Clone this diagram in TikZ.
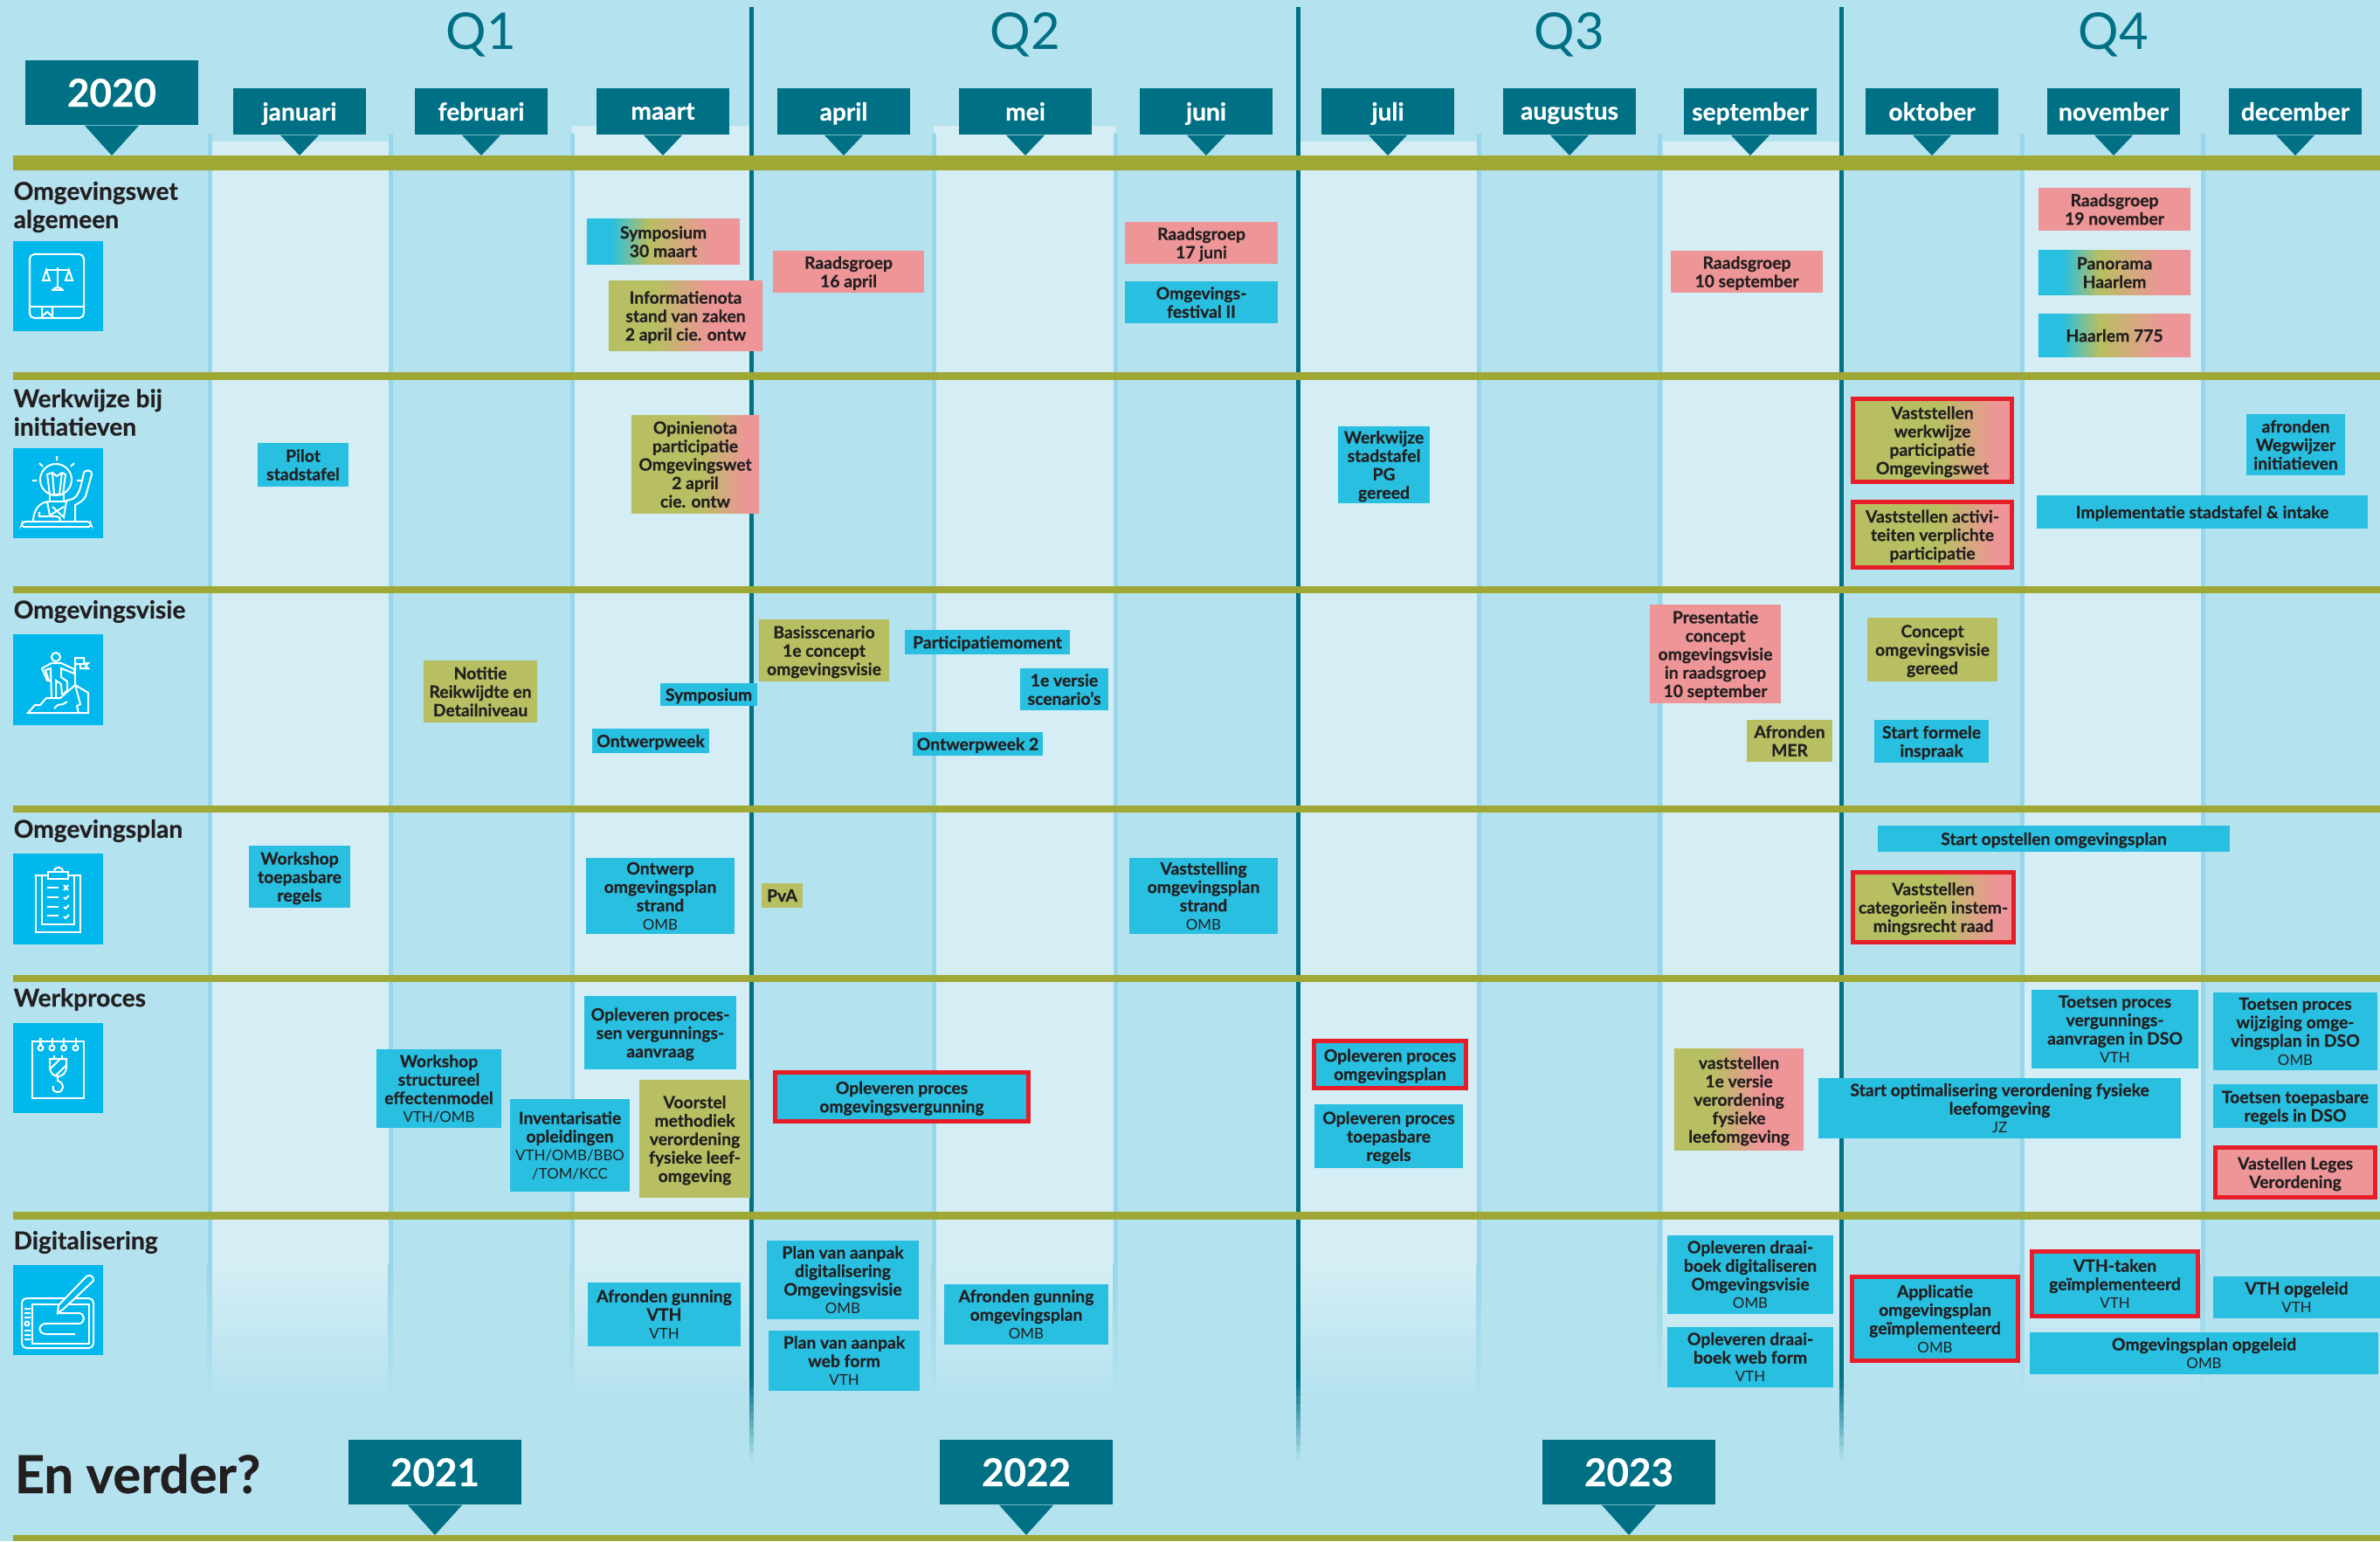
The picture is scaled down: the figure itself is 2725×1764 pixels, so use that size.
\documentclass[tikz,border=0pt]{standalone}
\usepackage{fontspec}
\setmainfont{Lato}[BoldFeatures={FakeBold=0.5}]
\usetikzlibrary{positioning}

\definecolor{bgblue}{HTML}{B4E2EF}
\definecolor{lightblue}{HTML}{D5EEF5}
\definecolor{colline}{HTML}{98D7E9}
\definecolor{tagteal}{HTML}{007085}
\definecolor{barolive}{HTML}{9FA735}
\definecolor{iconblue}{HTML}{00B8EC}
\definecolor{boxcyan}{HTML}{29BFE0}
\definecolor{boxolive}{HTML}{B7BF62}
\definecolor{boxpink}{HTML}{EE9598}
\definecolor{markred}{HTML}{E71D2A}
\definecolor{inktext}{HTML}{231F20}

\pgfdeclarehorizontalshading{olivepink}{100bp}{color(0bp)=(boxolive); color(40bp)=(boxolive); color(58bp)=(boxpink); color(100bp)=(boxpink)}
\pgfdeclarehorizontalshading{olivepinklate}{100bp}{color(0bp)=(boxolive); color(52bp)=(boxolive); color(70bp)=(boxpink); color(100bp)=(boxpink)}
\pgfdeclarehorizontalshading{cyanpink}{100bp}{color(0bp)=(boxcyan); color(33bp)=(boxcyan); color(45bp)=(boxolive); color(66bp)=(boxpink); color(100bp)=(boxpink)}

\tikzset{
  evbox/.style={inner sep=0pt, align=center, text=inktext, text depth=-.5pt, font=\fontsize{5.5}{6}\selectfont\bfseries},
  cyanbox/.style={evbox, fill=boxcyan},
  olivebox/.style={evbox, fill=boxolive},
  pinkbox/.style={evbox, fill=boxpink},
  gradbox/.style={evbox, shade, shading=olivepink},
  lategrad/.style={evbox, shade, shading=olivepinklate},
  mixbox/.style={evbox, shade, shading=cyanpink},
  redline/.style={draw=markred, line width=.05cm},
  monthtag/.style={fill=tagteal, text=white, inner sep=0pt, text depth=-.5pt, minimum width=1.52cm, minimum height=.53cm, font=\fontsize{8}{9}\selectfont\bfseries},
  yeartag/.style={fill=tagteal, text=white, inner sep=0pt, text depth=-1pt, minimum width=1.98cm, minimum height=.74cm, font=\fontsize{12.5}{14}\selectfont\bfseries},
  quarter/.style={text=tagteal, inner sep=0pt, font=\fontsize{16.5}{20}\selectfont},
  rowtitle/.style={anchor=west, inner sep=0pt, align=left, text=inktext, font=\fontsize{8}{9.2}\selectfont\bfseries},
  iconsq/.style={fill=iconblue, minimum width=1.03cm, minimum height=1.03cm, inner sep=0pt},
  iconline/.style={draw=white, line width=.02cm, fill=none},
  oliveline/.style={fill=barolive},
}
\newcommand{\sublbl}[1]{{\mdseries\fontsize{4.8}{6}\selectfont #1}}

\begin{document}
\begin{tikzpicture}[x=.01cm, y=-.01cm]
\useasboundingbox (0,0) rectangle (2725,1764);
\fill[bgblue] (0,0) rectangle (2725,1764);

% lighter month columns
\foreach \xa/\xb/\ytop in {242/445/162, 655/858/144, 1069/1277/144, 1488/1693/162, 1904/2106/162, 2316/2522/178}{
  \fill[lightblue] (\xa,\ytop) rectangle (\xb,1447);
  \shade[top color=lightblue, bottom color=bgblue] (\xa,1447) rectangle (\xb,1600);
}
\foreach \xa in {240, 447, 655, 1069, 1277, 1693, 1900, 2315, 2522}{
  \fill[colline] (\xa-2.5,153) rectangle (\xa+2.5,1447);
  \shade[top color=colline, bottom color=bgblue] (\xa-2.5,1447) rectangle (\xa+2.5,1600);
}
% quarter lines, fading out in steps
\foreach \xa in {860, 1486, 2108}{
  \fill[tagteal] (\xa-2.5,8) rectangle (\xa+2.5,1580);
  \foreach \pct [count=\k] in {95,85,75,65,55,45,35,25,15,5}{
    \fill[tagteal!\pct!bgblue] (\xa-2.5,{1570+\k*9.3}) rectangle (\xa+2.5,{1580+\k*9.3});
  }
}
% olive bars
\fill[oliveline] (15,178) rectangle (2725,195);
\foreach \ya/\yb in {426/435, 671/679, 922/930, 1116/1124, 1387/1396, 1757/1764}{
  \fill[oliveline] (15,\ya) rectangle (2725,\yb);
}

\node[quarter] (q1) at (551,40) {Q1};
\node[quarter] (q2) at (1174,40) {Q2};
\node[quarter] (q3) at (1797,40) {Q3};
\node[quarter] (q4) at (2420,40) {Q4};

% month and year tags
\foreach \xa/\mname in {343/januari, 551/februari, 759/maart, 966/april, 1174/mei, 1381/juni, 1589/juli, 1797/augustus, 2004/september, 2212/oktober, 2420/november, 2628/december}{
  \node[monthtag] (\mname) at (\xa,127.5) {\mname};
  \fill[tagteal] ([xshift=-.22cm]\mname.south) -- ([xshift=.22cm]\mname.south) -- (\xa,178) -- cycle;
}
\foreach \xa/\ya/\ytip/\yname in {128/106/178/2020, 498/1685/1757/2021, 1175/1685/1757/2022, 1865/1685/1757/2023}{
  \node[yeartag] (y\yname) at (\xa,\ya) {\yname};
  \fill[tagteal] ([xshift=-.31cm]y\yname.south) -- ([xshift=.31cm]y\yname.south) -- (\xa,\ytip) -- cycle;
}

% row titles and icon squares
\node[rowtitle] (rt1) at (15,237) {Omgevingswet\\algemeen};
\node[rowtitle] (rt2) at (15,472) {Werkwijze bij\\initiatieven};
\node[rowtitle] (rt3) at (15,700) {Omgevingsvisie};
\node[rowtitle] (rt4) at (15,951) {Omgevingsplan};
\node[rowtitle] (rt5) at (15,1144) {Werkproces};
\node[rowtitle] (rt6) at (15,1422) {Digitalisering};
\node[rowtitle, font=\fontsize{17}{18}\selectfont\bfseries] (further) at (16,1687) {En verder?};

\node[iconsq] (ic1) at (66.5,327.5) {};
\node[iconsq] (ic2) at (66.5,564.5) {};
\node[iconsq] (ic3) at (66.5,778) {};
\node[iconsq] (ic4) at (66.5,1029) {};
\node[iconsq] (ic5) at (66.5,1222.5) {};
\node[iconsq] (ic6) at (66.5,1499.5) {};

% book with scales
\draw[iconline, rounded corners=1.5pt] (96,291) -- (34,291) -- (34,364) -- (96,364) -- cycle;
\draw[iconline] (34,351) -- (96,351);
\draw[iconline] (48,351) -- (48,362) -- (54,357) -- (60,362) -- (60,351);
\draw[iconline] (66,306) -- (66,328) (53,309) -- (79,309);
\draw[iconline] (53,309) -- (49,321) -- (57,321) -- cycle (79,309) -- (75,321) -- (83,321) -- cycle;
\draw[iconline] (59,332) -- (73,332) (61,332) .. controls (61,328) and (71,328) .. (71,332);
% bulb figure
\draw[iconline] (64,549) circle (.18cm);
\draw[iconline] (65,522) -- (65,527) (45,530) -- (49,534) (85,530) -- (81,534) (37,550) -- (42,550) (88,550) -- (93,550);
\draw[iconline] (57,566) rectangle (73,574);
\draw[iconline] (57,566) -- (54,543) -- (60,541) -- (65,545) -- (71,541) -- (75,543) -- (72,566) (60,541) -- (62,566) (71,541) -- (68,566);
\draw[iconline] (38,597) .. controls (38,583) and (46,574) .. (57,574) (73,574) -- (80,572) .. controls (90,570) and (92,560) .. (96,541) .. controls (98,537) and (106,538) .. (105,543) -- (98,568) .. controls (96,573) and (90,576) .. (86,578) -- (86,597);
\draw[iconline] (54,574) -- (57,590) -- (73,580) (76,574) -- (73,592) -- (60,580);
\draw[iconline] (45,586) -- (45,591) -- (65,591) .. controls (70,592) and (69,596) .. (68,597);
\draw[iconline, rounded corners=1pt] (24,603) -- (26,597) -- (103,597) -- (105,603) -- cycle;
% climber with flag
\draw[iconline] (64,752) circle (.05cm);
\draw[iconline] (86,752) -- (86,784) (86,753) -- (96,753) -- (96,760) -- (86,760) (92,760) -- (92,765) -- (101,765) -- (98,762) -- (101,759) -- (96,759);
\draw[iconline] (59,798) -- (58,765) -- (52,767) -- (56,779) -- (54,779) -- (48,765) -- (59,759) -- (70,759) -- (85,766) -- (85,771) -- (70,765) -- (70,775) -- (77,780) -- (77,790) -- (72,795);
\draw[iconline] (64,798) -- (64,779) -- (70,783) -- (71,795);
\draw[iconline] (32,816) -- (40,807) -- (46,807) -- (53,799) -- (69,799) -- (86,784) -- (101,793) -- (101,816) -- cycle;
\draw[iconline] (86,784) -- (92,806) -- (88,808) -- (90,816) (62,811) -- (66,807) -- (72,806) -- (77,803);
% clipboard
\draw[iconline] (41,1002) rectangle (92,1067) (48,1002) rectangle (85,1058);
\draw[iconline, fill=iconblue] (55,1006) rectangle (78,998);
\draw[iconline] (62,998) .. controls (62,991) and (72,991) .. (72,998);
\draw[iconline] (54,1016) -- (67,1016) (54,1027) -- (67,1027) (54,1037.5) -- (67,1037.5) (54,1048) -- (67,1048);
\draw[iconline] (73,1013) -- (78,1019) (78,1013) -- (73,1019);
\draw[iconline] (73,1027) -- (75,1029) -- (79,1025) (73,1038) -- (75,1040) -- (79,1036) (73,1049) -- (75,1051) -- (79,1047);
% plan with hook
\draw[iconline] (37,1192) rectangle (96,1257);
\draw[iconline] (46.5,1199.5) circle (.03cm) (59.5,1199.5) circle (.03cm) (73,1199.5) circle (.03cm) (86.5,1199.5) circle (.03cm);
\draw[iconline] (46.5,1188) -- (46.5,1196.5) (59.5,1188) -- (59.5,1196.5) (73,1188) -- (73,1196.5) (86.5,1188) -- (86.5,1196.5);
\draw[iconline] (57,1212) -- (76,1212) -- (76,1222) .. controls (76,1228) and (71,1232) .. (66.5,1232) .. controls (62,1232) and (57,1228) .. (57,1222) -- cycle;
\draw[iconline] (62,1208) -- (62,1212) (71,1208) -- (71,1212) (57,1224) -- (69,1212) (64,1231) -- (76,1219);
\draw[iconline] (66,1232) -- (66,1237) .. controls (74,1239) and (74,1250) .. (66,1250) .. controls (61,1250) and (60,1246) .. (61,1243);
% tablet with pen
\draw[iconline, rounded corners=1.5pt] (25,1486) rectangle (107,1543);
\draw[iconline] (37,1493) rectangle (102,1538);
\draw[iconline, fill=iconblue] (66,1503) -- (67,1494) -- (98,1462) .. controls (101,1458) and (108,1460) .. (107,1466) -- (73,1498) -- cycle;
\draw[iconline] (66,1503) -- (90,1503) .. controls (98,1503) and (98,1515) .. (90,1515) -- (53,1515) .. controls (43,1515) and (43,1527) .. (53,1527) -- (86,1527);
\draw[iconline] (31,1515) circle (.025cm) (28,1498) -- (35,1498) (28,1503) -- (35,1503) (28,1508) -- (35,1508) (28,1523) -- (35,1523) (28,1528) -- (35,1528) (28,1533) -- (35,1533);

% Omgevingswet algemeen
\node[mixbox, minimum width=1.75cm, minimum height=.51cm] (symp30) at (759.5,276.5) {Symposium\\30 maart};
\node[gradbox, minimum width=1.76cm, minimum height=.79cm] (infonota) at (785,361.5) {Informatienota\\stand van zaken\\2 april cie. ontw};
\node[pinkbox, minimum width=1.73cm, minimum height=.48cm] (rg16) at (971.5,311) {Raadsgroep\\16 april};
\node[pinkbox, minimum width=1.75cm, minimum height=.48cm] (rg17) at (1375.5,278) {Raadsgroep\\17 juni};
\node[cyanbox, minimum width=1.75cm, minimum height=.48cm] (festival) at (1375.5,346) {Omgevings-\\festival II};
\node[pinkbox, minimum width=1.74cm, minimum height=.48cm] (rg10) at (2000,311) {Raadsgroep\\10 september};
\node[pinkbox, minimum width=1.74cm, minimum height=.49cm] (rg19) at (2421,239.5) {Raadsgroep\\19 november};
\node[mixbox, minimum width=1.74cm, minimum height=.50cm] (panorama) at (2421,312) {Panorama\\Haarlem};
\node[mixbox, minimum width=1.74cm, minimum height=.48cm] (h775) at (2421,384) {Haarlem 775};

% Werkwijze bij initiatieven
\node[cyanbox, minimum width=1.04cm, minimum height=.50cm] (pilot) at (347,532) {Pilot\\stadstafel};
\node[lategrad, minimum width=1.46cm, minimum height=1.11cm] (opinie) at (796,531.5) {Opinienota\\participatie\\Omgevingswet\\2 april\\cie. ontw};
\node[cyanbox, minimum width=1.05cm, minimum height=.88cm] (wwpg) at (1584.5,532) {Werkwijze\\stadstafel\\PG\\gereed};
\node[lategrad, redline, minimum width=1.82cm, minimum height=.95cm] (vastww) at (2212.5,504) {Vaststellen\\werkwijze\\participatie\\Omgevingswet};
\node[lategrad, redline, minimum width=1.82cm, minimum height=.75cm] (vastact) at (2212.5,612) {Vaststellen activi-\\teiten verplichte\\participatie};
\node[cyanbox, minimum width=1.13cm, minimum height=.70cm] (wegwijzer) at (2628.5,509) {afronden\\Wegwijzer\\initiatieven};
\node[cyanbox, minimum width=3.79cm, minimum height=.38cm] (impl) at (2521.5,586) {Implementatie stadstafel \& intake};

% Omgevingsvisie
\node[olivebox, minimum width=1.30cm, minimum height=.71cm] (notitie) at (550,791.5) {Notitie\\Reikwijdte en\\Detailniveau};
\node[cyanbox, minimum width=1.11cm, minimum height=.26cm] (symp) at (811.5,795) {Symposium};
\node[cyanbox, minimum width=1.34cm, minimum height=.28cm] (owweek) at (745,848) {Ontwerpweek};
\node[olivebox, minimum width=1.49cm, minimum height=.71cm] (basis) at (943.5,744.5) {Basisscenario\\1e concept\\omgevingsvisie};
\node[cyanbox, minimum width=1.89cm, minimum height=.28cm] (partic) at (1130.5,735) {Participatiemoment};
\node[cyanbox, minimum width=1.01cm, minimum height=.48cm] (versie1) at (1218.5,789) {1e versie\\scenario's};
\node[cyanbox, minimum width=1.49cm, minimum height=.27cm] (owweek2) at (1119.5,851.5) {Ontwerpweek 2};
\node[pinkbox, minimum width=1.50cm, minimum height=1.13cm] (present) at (1964,748.5) {Presentatie\\concept\\omgevingsvisie\\in raadsgroep\\10 september};
\node[olivebox, minimum width=.98cm, minimum height=.48cm] (mer) at (2049,848) {Afronden\\MER};
\node[olivebox, minimum width=1.49cm, minimum height=.73cm] (concept) at (2212.5,743.5) {Concept\\omgevingsvisie\\gereed};
\node[cyanbox, minimum width=1.31cm, minimum height=.49cm] (inspraak) at (2211.5,848.5) {Start formele\\inspraak};

% Omgevingsplan
\node[cyanbox, minimum width=1.16cm, minimum height=.71cm] (wstoep) at (343,1003.5) {Workshop\\toepasbare\\regels};
\node[cyanbox, minimum width=1.70cm, minimum height=.87cm] (owstrand) at (756,1025.5) {Ontwerp\\omgevingsplan\\strand\\\sublbl{OMB}};
\node[olivebox, minimum width=.47cm, minimum height=.28cm] (pva) at (895.5,1025) {PvA};
\node[cyanbox, minimum width=1.70cm, minimum height=.87cm] (vaststrand) at (1378,1025.5) {Vaststelling\\omgevingsplan\\strand\\\sublbl{OMB}};
\node[cyanbox, minimum width=4.03cm, minimum height=.30cm] (startplan) at (2351.5,960) {Start opstellen omgevingsplan};
\node[lategrad, redline, minimum width=1.84cm, minimum height=.80cm] (vastcat) at (2213.5,1038.5) {Vaststellen\\categorieën instem-\\mingsrecht raad};

% Werkproces
\node[cyanbox, minimum width=1.43cm, minimum height=.90cm] (wsstruct) at (502.5,1246) {Workshop\\structureel\\effectenmodel\\\sublbl{VTH/OMB}};
\node[cyanbox, minimum width=1.37cm, minimum height=1.06cm] (invent) at (652.5,1311) {Inventarisatie\\opleidingen\\\sublbl{VTH/OMB/BBO}\\\sublbl{/TOM/KCC}};
\node[cyanbox, minimum width=1.74cm, minimum height=.84cm] (oplaanv) at (756,1182) {Opleveren proces-\\sen vergunnings-\\aanvraag};
\node[olivebox, minimum width=1.27cm, minimum height=1.35cm] (voorstel) at (795.5,1303.5) {Voorstel\\methodiek\\verordening\\fysieke leef-\\omgeving};
\node[cyanbox, redline, minimum width=2.90cm, minimum height=.56cm] (oplverg) at (1032.5,1255.5) {Opleveren proces\\omgevingsvergunning};
\node[cyanbox, redline, minimum width=1.74cm, minimum height=.54cm] (oplplan) at (1591.5,1218.5) {Opleveren proces\\omgevingsplan};
\node[cyanbox, minimum width=1.70cm, minimum height=.73cm] (opltoep) at (1590,1300.5) {Opleveren proces\\toepasbare\\regels};
\node[gradbox, minimum width=1.48cm, minimum height=1.15cm] (vastfys) at (1991,1258.5) {vaststellen\\1e versie\\verordening\\fysieke\\leefomgeving};
\node[cyanbox, minimum width=1.91cm, minimum height=.90cm] (toetsverg) at (2421.5,1178) {Toetsen proces\\vergunnings-\\aanvragen in DSO\\\sublbl{VTH}};
\node[cyanbox, minimum width=1.88cm, minimum height=.89cm] (toetswijz) at (2628,1180.5) {Toetsen proces\\wijziging omge-\\vingsplan in DSO\\\sublbl{OMB}};
\node[cyanbox, minimum width=4.15cm, minimum height=.69cm] (startopt) at (2289.5,1268.5) {Start optimalisering verordening fysieke\\leefomgeving\\\sublbl{JZ}};
\node[cyanbox, minimum width=1.88cm, minimum height=.50cm] (toetstoep) at (2628,1266) {Toetsen toepasbare\\regels in DSO};
\node[pinkbox, redline, minimum width=1.83cm, minimum height=.57cm] (leges) at (2628,1342) {Vastellen Leges\\Verordening};

% Digitalisering
\node[cyanbox, minimum width=1.74cm, minimum height=.90cm] (planvis) at (965,1465) {Plan van aanpak\\digitalisering\\Omgevingsvisie\\\sublbl{OMB}};
\node[cyanbox, minimum width=1.73cm, minimum height=.69cm] (planweb) at (966.5,1557.5) {Plan van aanpak\\web form\\\sublbl{VTH}};
\node[cyanbox, minimum width=1.75cm, minimum height=.73cm] (gunvth) at (760.5,1504.5) {Afronden gunning\\VTH\\\sublbl{VTH}};
\node[cyanbox, minimum width=1.88cm, minimum height=.69cm] (gunplan) at (1175,1504.5) {Afronden gunning\\omgevingsplan\\\sublbl{OMB}};
\node[cyanbox, minimum width=1.90cm, minimum height=.90cm] (draaidig) at (2004,1459) {Opleveren draai-\\boek digitaliseren\\Omgevingsvisie\\\sublbl{OMB}};
\node[cyanbox, minimum width=1.90cm, minimum height=.69cm] (draaiweb) at (2004,1553.5) {Opleveren draai-\\boek web form\\\sublbl{VTH}};
\node[cyanbox, redline, minimum width=1.90cm, minimum height=.96cm] (applic) at (2215.5,1509.5) {Applicatie\\omgevingsplan\\geïmplementeerd\\\sublbl{OMB}};
\node[cyanbox, redline, minimum width=1.90cm, minimum height=.74cm] (vthtaken) at (2421.5,1469.5) {VTH-taken\\geïmplementeerd\\\sublbl{VTH}};
\node[cyanbox, minimum width=1.91cm, minimum height=.48cm] (vthopg) at (2629.5,1485) {VTH opgeleid\\\sublbl{VTH}};
\node[cyanbox, minimum width=3.99cm, minimum height=.48cm] (omgopg) at (2523.5,1549) {Omgevingsplan opgeleid\\\sublbl{OMB}};
\end{tikzpicture}
\end{document}
